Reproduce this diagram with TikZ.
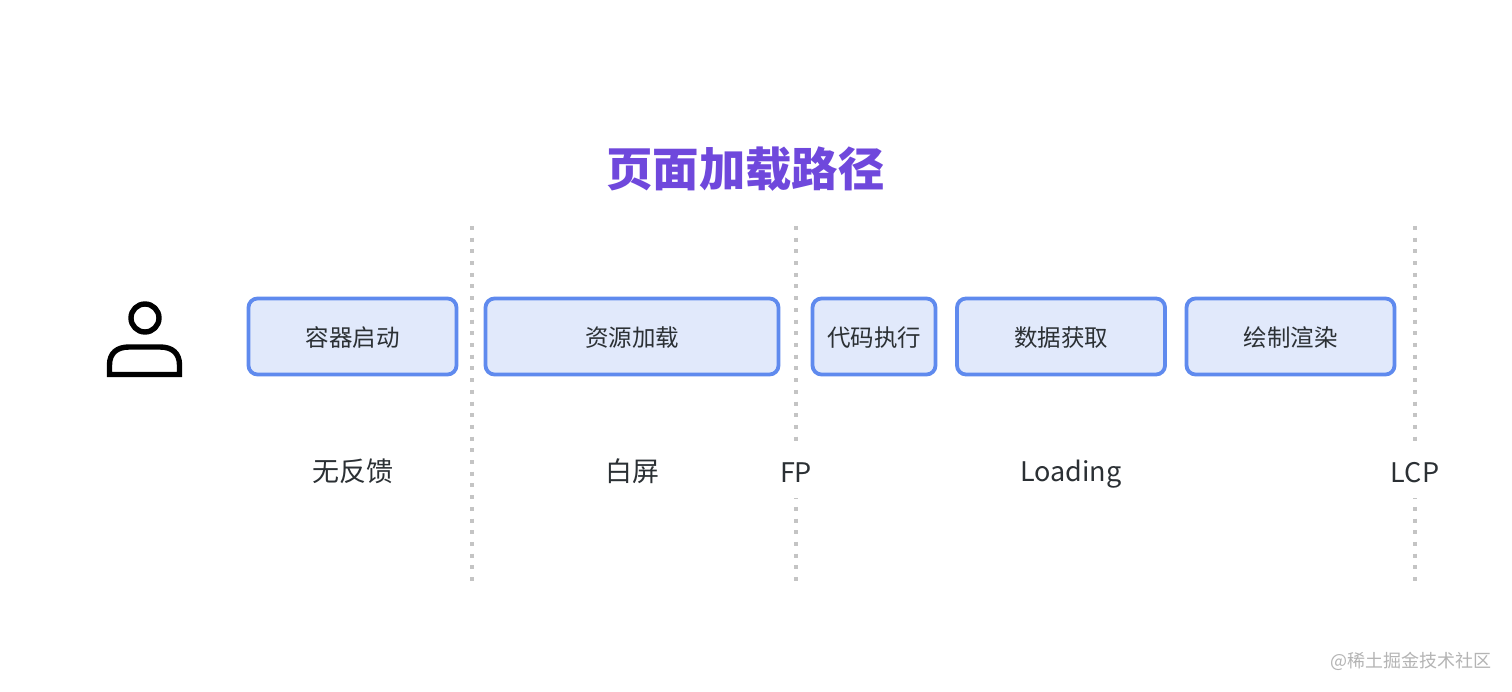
\documentclass[tikz,border=0pt]{standalone}
\usepackage{fontspec}
\setmainfont{Noto Sans}
\newfontfamily\cjk{Noto Sans CJK SC}
\newcommand{\nudge}[1]{\raisebox{-10.5pt}[0pt][0pt]{#1}}
\newcommand{\nudgeb}[1]{\raisebox{-12.5pt}[0pt][0pt]{#1}}
\definecolor{boxfill}{HTML}{E1E9FB}
\definecolor{boxline}{HTML}{5F8AEE}
\definecolor{titlec}{HTML}{6F48DC}
\definecolor{textc}{HTML}{2B3034}
\definecolor{dotc}{HTML}{C4C4C4}
\definecolor{markc}{HTML}{B4B4B4}
\tikzset{
  x=1pt,y=-1pt,
  stagebox/.style={draw=boxline,fill=boxfill,line width=3.8pt,rounded corners=9pt,minimum height=76pt,inner sep=0pt,text=textc,font=\fontsize{23.5}{26}\selectfont\cjk},
  lab/.style={text=textc,inner sep=1pt,font=\fontsize{27}{30}\selectfont\cjk},
  marker/.style={text=textc,fill=white,inner xsep=1pt,inner ysep=0pt,minimum height=56pt,font=\fontsize{27}{30}\selectfont\cjk},
  dotline/.style={draw=dotc,line width=4pt,dash pattern=on 4pt off 7.7pt},
  icon/.style={draw=black,line width=5.4pt}
}
\begin{document}
\begin{tikzpicture}
\useasboundingbox (0,0) rectangle (1512,692);
\fill[white] (0,0) rectangle (1512,692);
\node[text=titlec,font=\fontsize{46.4}{50}\selectfont\cjk\bfseries] (title) at (745.5,169) {页面加载路径};
\coordinate (d1t) at (472,226); \coordinate (d1b) at (472,582);
\coordinate (d2t) at (796,226); \coordinate (d2b) at (796,582);
\coordinate (d3t) at (1415,226); \coordinate (d3b) at (1415,582);
\draw[dotline] (d1t) -- (d1b);
\draw[dotline] (d2t) -- (d2b);
\draw[dotline] (d3t) -- (d3b);
\node[stagebox,minimum width=208pt] (b1) at (352.5,336.5) {\nudge{容器启动}};
\node[stagebox,minimum width=293pt] (b2) at (632,336.5) {\nudge{资源加载}};
\node[stagebox,minimum width=123pt] (b3) at (874,336.5) {\nudge{代码执行}};
\node[stagebox,minimum width=208pt] (b4) at (1061,336.5) {\nudge{数据获取}};
\node[stagebox,minimum width=208pt] (b5) at (1290.5,336.5) {\nudge{绘制渲染}};
\node[lab] (l1) at (353,471) {无反馈};
\node[lab] (l2) at (632.5,471) {白屏};
\node[lab] (l3) at (1071,474) {Loading};
\node[marker] (m1) at (796,470) {\nudgeb{FP}};
\node[marker] (m2) at (1415,470) {\nudgeb{LCP}};
\node[circle,icon,minimum size=28pt,inner sep=0pt] (head) at (145,318) {};
\draw[icon,line join=miter] (109.5,374.5) -- (109.5,365) .. controls (109.5,353) and (117,347) .. (129,347) -- (160,347) .. controls (172,347) and (179.5,353) .. (179.5,365) -- (179.5,374.5) -- cycle;
\node[text=markc,font=\fontsize{18}{20}\selectfont\cjk,anchor=east,inner sep=0pt] (wm) at (1492,661) {@稀土掘金技术社区};
\end{tikzpicture}
\end{document}
